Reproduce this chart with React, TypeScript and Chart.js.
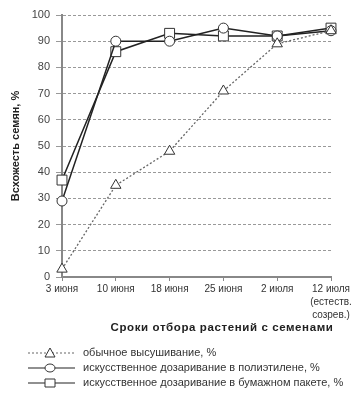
import React, { useEffect, useRef } from "react";
import { Chart, registerables } from "chart.js";

Chart.register(...registerables);

const categories: (string | string[])[] = [
  "3 июня",
  "10 июня",
  "18 июня",
  "25 июня",
  "2 июля",
  ["12 июля", "(естеств.", "созрев.)"],
];
const usual = [3, 35, 48, 71, 89, 94];
const polyethylene = [29, 90, 90, 95, 92, 94];
const paperBag = [37, 86, 93, 92, 92, 95];
const seriesNames = [
  "обычное высушивание, %",
  "искусственное дозаривание в полиэтилене, %",
  "искусственное дозаривание в бумажном пакете, %",
];
const xTitle = "Сроки отбора растений с семенами";
const yTitle = "Всхожесть семян, %";
const yTicks = [0, 10, 20, 30, 40, 50, 60, 70, 80, 90, 100];

const FONT = "'Liberation Sans', Arial, sans-serif";
const NARROW = "'Liberation Sans Narrow', 'Liberation Sans', Arial, sans-serif";

const legendPlugin = {
  id: "customLegend",
  afterDraw(chart: any) {
    const ctx = chart.ctx;
    const rows = [353, 368, 383];
    const styles = [
      { dash: [2, 2], color: "#666", point: "triangle" },
      { dash: [], color: "#222", point: "circle" },
      { dash: [], color: "#222", point: "rect" },
    ];
    ctx.save();
    // x axis title
    ctx.fillStyle = "#222";
    ctx.font = `bold 11.5px ${FONT}`;
    (ctx as any).letterSpacing = "0.6px";
    ctx.textAlign = "center";
    ctx.textBaseline = "middle";
    ctx.fillText(xTitle, 222, 328);
    (ctx as any).letterSpacing = "0px";
    rows.forEach((y, i) => {
      const s = styles[i];
      ctx.strokeStyle = s.color;
      ctx.lineWidth = 1.2;
      ctx.setLineDash(s.dash);
      ctx.beginPath();
      ctx.moveTo(28, y);
      ctx.lineTo(75, y);
      ctx.stroke();
      ctx.setLineDash([]);
      ctx.fillStyle = "#fff";
      ctx.strokeStyle = "#333";
      ctx.lineWidth = 1;
      ctx.beginPath();
      if (s.point === "triangle") {
        ctx.moveTo(50, y - 5);
        ctx.lineTo(55, y + 4);
        ctx.lineTo(45, y + 4);
        ctx.closePath();
      } else if (s.point === "circle") {
        ctx.ellipse(50, y, 5, 4, 0, 0, Math.PI * 2);
      } else {
        ctx.rect(45, y - 4, 10, 8);
      }
      ctx.fill();
      ctx.stroke();
      ctx.fillStyle = "#333";
      ctx.font = `11px ${NARROW}`;
      ctx.textBaseline = "middle";
      ctx.textAlign = "left";
      ctx.fillText(seriesNames[i], 83, y);
    });
    ctx.restore();
  },
};

export default function App() {
  const ref = useRef<HTMLCanvasElement>(null);
  useEffect(() => {
    document.body.style.margin = "0";
    const chart = new Chart(ref.current!, {
      type: "line",
      data: {
        labels: categories,
        datasets: [
          {
            label: seriesNames[0],
            data: usual,
            borderColor: "#666",
            borderWidth: 1.3,
            borderDash: [2, 2],
            pointStyle: "triangle",
            pointRadius: 6,
            pointBackgroundColor: "#fff",
            pointBorderColor: "#333",
            pointBorderWidth: 1,
          },
          {
            label: seriesNames[1],
            data: polyethylene,
            borderColor: "#222",
            borderWidth: 1.5,
            pointStyle: "circle",
            pointRadius: 5,
            pointBackgroundColor: "#fff",
            pointBorderColor: "#333",
            pointBorderWidth: 1,
          },
          {
            label: seriesNames[2],
            data: paperBag,
            borderColor: "#222",
            borderWidth: 1.5,
            pointStyle: "rect",
            pointRadius: 7,
            pointBackgroundColor: "#fff",
            pointBorderColor: "#333",
            pointBorderWidth: 1,
          },
        ],
      },
      options: {
        responsive: false,
        animation: false,
        layout: { padding: { top: 15, left: 9, right: 32, bottom: 60 } },
        plugins: {
          legend: { display: false },
          tooltip: { enabled: false },
        },
        scales: {
          x: {
            offset: false,
            grid: {
              drawOnChartArea: false,
              drawTicks: true,
              tickLength: 4,
              color: "#888",
            },
            border: { color: "#888", width: 2 },
            ticks: {
              color: "#333",
              font: { family: NARROW, size: 10, lineHeight: 1.3 },
              padding: 2,
              maxRotation: 0,
              autoSkip: false,
            },
            afterFit: (s: any) => {
              s.height = 60;
            },
          },
          y: {
            min: 0,
            max: 100,
            afterBuildTicks: (s: any) => {
              s.ticks = yTicks.map((v) => ({ value: v }));
            },
            grid: {
              color: "#999",
              tickLength: 6,
              drawTicks: true,
            },
            border: { color: "#888", width: 2, dash: [3, 2] },
            ticks: {
              color: "#444",
              font: { family: FONT, size: 11 },
              padding: 6,
            },
            title: {
              display: true,
              text: yTitle,
              color: "#222",
              font: { family: FONT, size: 11, weight: "bold" },
              padding: { top: 0, bottom: 0 },
            },
            afterFit: (s: any) => {
              s.width = 53;
            },
          },
        },
      },
      plugins: [legendPlugin],
    } as any);
    return () => chart.destroy();
  }, []);
  return <canvas ref={ref} width={363} height={397} style={{ display: "block" }} />;
}
